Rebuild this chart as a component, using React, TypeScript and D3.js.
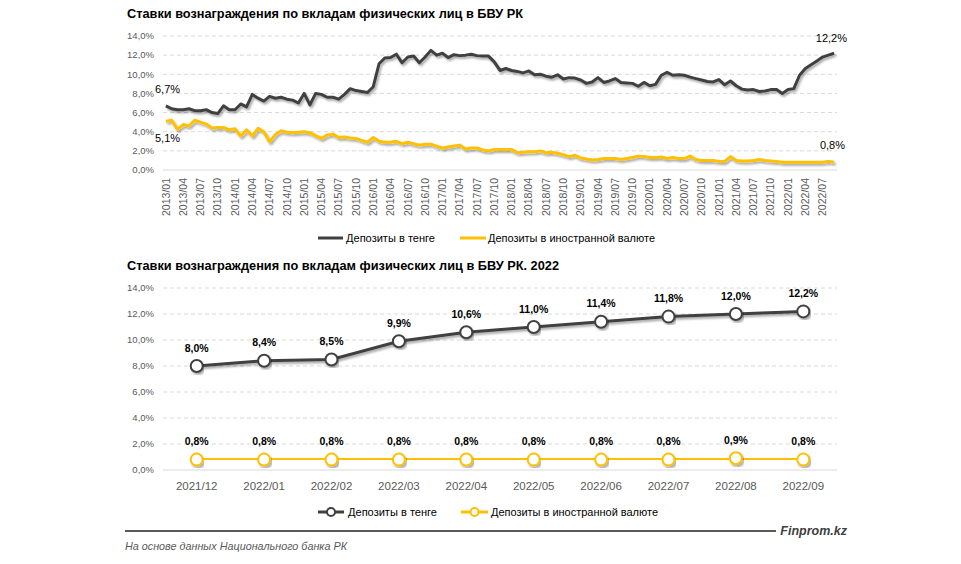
import React from "react";
import * as d3 from "d3";

const tengeAll = [
  6.7, 6.4, 6.3, 6.3, 6.4, 6.2, 6.2, 6.3, 6.0, 5.9, 6.7, 6.3,
  6.3, 6.9, 6.6, 7.9, 7.5, 7.2, 7.7, 7.5, 7.6, 7.4, 7.3, 7.0,
  8.0, 6.8, 8.0, 7.9, 7.6, 7.6, 7.4, 7.9, 8.5, 8.3, 8.2, 8.1,
  8.7, 11.1, 11.7, 11.75, 12.1, 11.2, 11.8, 11.9, 11.2, 11.8, 12.5, 12.0,
  12.2, 11.75, 12.05, 11.95, 12.0, 12.1, 11.95, 11.9, 11.9, 11.3, 10.4, 10.6,
  10.4, 10.3, 10.15, 10.35, 9.95, 10.0, 9.8, 9.7, 9.95, 9.5, 9.65, 9.6,
  9.4, 9.05, 9.2, 9.65, 9.15, 9.3, 9.55, 9.15, 9.1, 9.05, 8.75, 9.15,
  8.8, 8.95, 9.9, 10.2, 9.9, 9.95, 9.9, 9.7, 9.55, 9.4, 9.25, 9.2,
  9.45, 8.9, 9.3, 8.8, 8.45, 8.35, 8.4, 8.2, 8.25, 8.4, 8.4, 8.0,
  8.4, 8.5, 9.9, 10.6, 11.0, 11.4, 11.8, 12.0, 12.2,
];

const foreignAll = [
  5.1, 5.2, 4.25, 4.75, 4.6, 5.2, 5.0, 4.8, 4.4, 4.45, 4.45, 4.2,
  4.3, 3.55, 4.2, 3.55, 4.35, 4.0, 2.95, 3.7, 4.1, 3.95, 3.9, 3.95,
  4.0, 3.9, 3.6, 3.3, 3.65, 3.75, 3.4, 3.45, 3.35, 3.3, 3.1, 2.9,
  3.4, 3.0, 2.9, 2.9, 3.0, 2.75, 2.9, 2.75, 2.6, 2.7, 2.7, 2.5,
  2.3, 2.4, 2.5, 2.6, 2.2, 2.3, 2.3, 2.1, 2.0, 2.15, 2.15, 2.15,
  2.15, 1.8, 1.85, 1.9, 1.9, 2.0, 1.8, 1.85, 1.75, 1.6, 1.4, 1.55,
  1.25, 1.15, 1.05, 1.1, 1.2, 1.2, 1.2, 1.1, 1.2, 1.3, 1.45, 1.4,
  1.3, 1.3, 1.35, 1.2, 1.3, 1.2, 1.2, 1.45, 1.1, 1.0, 1.0, 1.0,
  0.9, 0.9, 1.4, 1.0, 0.95, 0.95, 1.0, 1.1, 1.0, 0.95, 0.9, 0.8,
  0.8, 0.8, 0.8, 0.8, 0.8, 0.8, 0.8, 0.9, 0.8,
];

const months2022 = ["2021/12", "2022/01", "2022/02", "2022/03", "2022/04", "2022/05", "2022/06", "2022/07", "2022/08", "2022/09"];
const tenge2022 = [8.0, 8.4, 8.5, 9.9, 10.6, 11.0, 11.4, 11.8, 12.0, 12.2];
const foreign2022 = [0.8, 0.8, 0.8, 0.8, 0.8, 0.8, 0.8, 0.8, 0.9, 0.8];

const yTicks = [0, 2, 4, 6, 8, 10, 12, 14];
const seriesNames = ["Депозиты в тенге", "Депозиты в иностранной валюте"];
const title1 = "Ставки вознаграждения по вкладам физических лиц в БВУ РК";
const title2 = "Ставки вознаграждения по вкладам физических лиц в БВУ РК. 2022";
const sourceText = "На основе данных Национального банка РК";
const brand = "Finprom.kz";

const monthsAll: string[] = [];
for (let y = 2013; y <= 2022; y++) {
  for (let m = 1; m <= 12; m++) {
    if (monthsAll.length < tengeAll.length) monthsAll.push(`${y}/${String(m).padStart(2, "0")}`);
  }
}

const DARK = "#404040";
const YEL = "#FFC000";
const GRID = "#d9d9d9";
const AXT = "#595959";
const FONT = "'Liberation Sans', Arial, sans-serif";
const fmt = (v: number) => v.toFixed(1).replace(".", ",") + "%";

export default function App() {
  const L = 163, R = 837;
  const xT = d3.scaleBand<string>().domain(monthsAll).range([L, R]);
  const cxT = (d: string) => (xT(d) as number) + xT.bandwidth() / 2;
  const yT = d3.scaleLinear().domain([0, 14]).range([170, 36]);
  const lineT = (vals: number[]) =>
    d3.line<number>().x((_, i) => cxT(monthsAll[i])).y((v) => yT(v))(vals) || "";

  const xB = d3.scaleBand<string>().domain(months2022).range([L, R]);
  const cxB = (d: string) => (xB(d) as number) + xB.bandwidth() / 2;
  const yB = d3.scaleLinear().domain([0, 14]).range([470, 288]);
  const lineB = (vals: number[]) =>
    d3.line<number>().x((_, i) => cxB(months2022[i])).y((v) => yB(v))(vals) || "";

  const n = monthsAll.length - 1;

  return (
    <svg width={961} height={564} style={{ position: "absolute", left: 0, top: 0, background: "#fff" }} fontFamily={FONT}>
      <defs>
        <filter id="sh" x="-10%" y="-20%" width="120%" height="140%">
          <feDropShadow dx="1.5" dy="2" stdDeviation="1.2" floodColor="#000" floodOpacity="0.35" />
        </filter>
      </defs>
      <rect width={961} height={564} fill="#fff" />

      {/* ---------- Top chart ---------- */}
      <text x={127} y={18} fontSize={13} fontWeight="bold" fill="#000" textLength={396} lengthAdjust="spacingAndGlyphs">{title1}</text>
      {yTicks.map((t) => (
        <g key={"gt" + t}>
          {t > 0 && <line x1={L} x2={R} y1={yT(t)} y2={yT(t)} stroke={GRID} strokeDasharray="4 3" />}
          <text x={154} y={yT(t)} dy="0.35em" textAnchor="end" fontSize={9.5} fill={AXT}>{fmt(t)}</text>
        </g>
      ))}
      <line x1={L} x2={R} y1={yT(0)} y2={yT(0)} stroke={GRID} strokeWidth={1} />
      {monthsAll.map((m, i) =>
        i % 3 === 0 ? (
          <text key={m} transform={`translate(${cxT(m)},178) rotate(-90)`} dy="0.35em" textAnchor="end" fontSize={10.5} fill={AXT}>{m}</text>
        ) : null
      )}
      <path d={lineT(foreignAll)} fill="none" stroke={YEL} strokeWidth={3} strokeLinejoin="round" filter="url(#sh)" />
      <path d={lineT(tengeAll)} fill="none" stroke={DARK} strokeWidth={3} strokeLinejoin="round" filter="url(#sh)" />
      <text x={155} y={yT(tengeAll[0]) - 17} dy="0.35em" fontSize={11} fill="#000">{fmt(tengeAll[0])}</text>
      <text x={155} y={yT(foreignAll[0]) + 17} dy="0.35em" fontSize={11} fill="#000">{fmt(foreignAll[0])}</text>
      <text x={847} y={yT(tengeAll[n]) - 15} dy="0.35em" textAnchor="end" fontSize={11} fill="#000">{fmt(tengeAll[n])}</text>
      <text x={845} y={yT(foreignAll[n]) - 17} dy="0.35em" textAnchor="end" fontSize={11} fill="#000">{fmt(foreignAll[n])}</text>
      {/* legend top */}
      <line x1={318} x2={343} y1={238} y2={238} stroke={DARK} strokeWidth={3} />
      <text x={346} y={238} dy="0.35em" fontSize={10.5} fill="#000" textLength={89} lengthAdjust="spacingAndGlyphs">{seriesNames[0]}</text>
      <line x1={460} x2={486} y1={238} y2={238} stroke={YEL} strokeWidth={3} />
      <text x={488} y={238} dy="0.35em" fontSize={10.5} fill="#000" textLength={167} lengthAdjust="spacingAndGlyphs">{seriesNames[1]}</text>

      {/* ---------- Bottom chart ---------- */}
      <text x={127} y={270} fontSize={13} fontWeight="bold" fill="#000" textLength={432} lengthAdjust="spacingAndGlyphs">{title2}</text>
      {yTicks.map((t) => (
        <g key={"gb" + t}>
          {t > 0 && <line x1={L} x2={R} y1={yB(t)} y2={yB(t)} stroke={GRID} strokeDasharray="4 3" />}
          <text x={154} y={yB(t)} dy="0.35em" textAnchor="end" fontSize={9.5} fill={AXT}>{fmt(t)}</text>
        </g>
      ))}
      <line x1={L} x2={R} y1={yB(0)} y2={yB(0)} stroke={GRID} />
      {months2022.map((m) => (
        <text key={m} x={cxB(m)} y={486} dy="0.35em" textAnchor="middle" fontSize={11.5} fill={AXT}>{m}</text>
      ))}
      <path d={lineB(foreign2022)} fill="none" stroke={YEL} strokeWidth={3} filter="url(#sh)" />
      {foreign2022.map((v, i) => (
        <circle key={"fc" + i} cx={cxB(months2022[i])} cy={yB(v)} r={6} fill="#fff" stroke={YEL} strokeWidth={2} filter="url(#sh)" />
      ))}
      <path d={lineB(tenge2022)} fill="none" stroke={DARK} strokeWidth={3} filter="url(#sh)" />
      {tenge2022.map((v, i) => (
        <circle key={"tc" + i} cx={cxB(months2022[i])} cy={yB(v)} r={6} fill="#fff" stroke={DARK} strokeWidth={2} filter="url(#sh)" />
      ))}
      {tenge2022.map((v, i) => (
        <text key={"tl" + i} x={cxB(months2022[i])} y={yB(v) - 18} dy="0.35em" textAnchor="middle" fontSize={10.5} fontWeight="bold" fill="#000">{fmt(v)}</text>
      ))}
      {foreign2022.map((v, i) => (
        <text key={"fl" + i} x={cxB(months2022[i])} y={yB(v) - 18} dy="0.35em" textAnchor="middle" fontSize={10.5} fontWeight="bold" fill="#000">{fmt(v)}</text>
      ))}
      {/* legend bottom */}
      <line x1={318} x2={344} y1={512} y2={512} stroke={DARK} strokeWidth={3} />
      <circle cx={331} cy={512} r={4} fill="#fff" stroke={DARK} strokeWidth={2} />
      <text x={348} y={512} dy="0.35em" fontSize={10.5} fill="#000" textLength={89} lengthAdjust="spacingAndGlyphs">{seriesNames[0]}</text>
      <line x1={461} x2={488} y1={512} y2={512} stroke={YEL} strokeWidth={3} />
      <circle cx={474.5} cy={512} r={4} fill="#fff" stroke={YEL} strokeWidth={2} />
      <text x={491} y={512} dy="0.35em" fontSize={10.5} fill="#000" textLength={167} lengthAdjust="spacingAndGlyphs">{seriesNames[1]}</text>

      {/* footer */}
      <line x1={125} x2={776} y1={531} y2={531} stroke="#595959" strokeWidth={2} />
      <text x={847} y={531} dy="0.35em" textAnchor="end" fontSize={12.5} fontWeight="bold" fontStyle="italic" fill="#404040">{brand}</text>
      <text x={125} y={546} dy="0.35em" fontSize={10.5} fontStyle="italic" fill="#595959" textLength={222} lengthAdjust="spacingAndGlyphs">{sourceText}</text>
    </svg>
  );
}
